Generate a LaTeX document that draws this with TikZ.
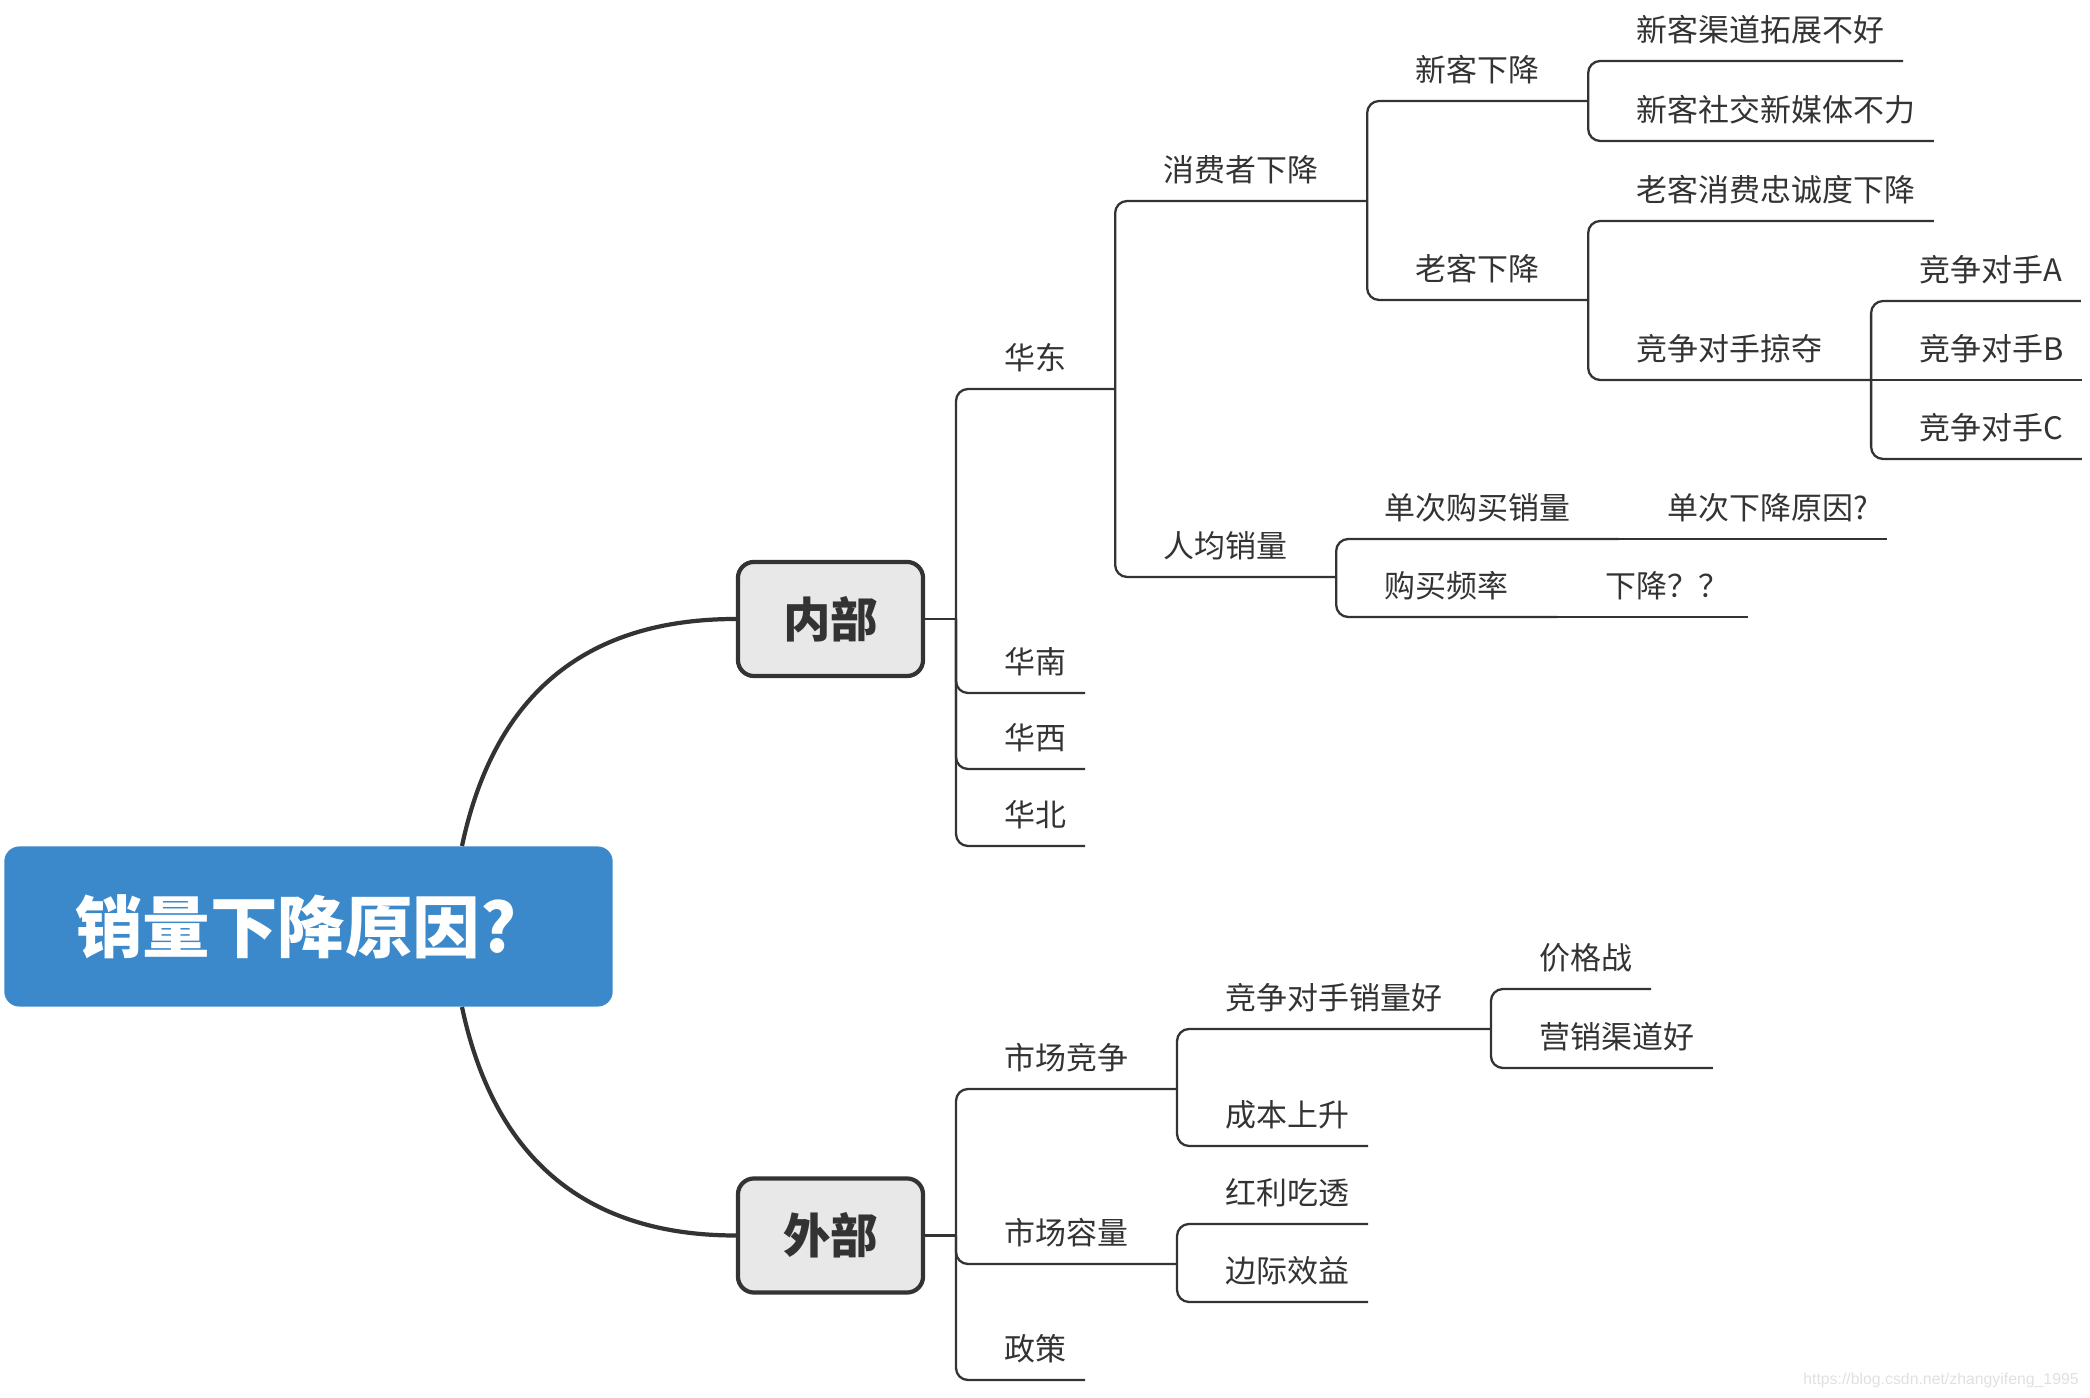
\documentclass[tikz,border=0pt]{standalone}
\usepackage{fontspec}
\newfontfamily\cjk{Noto Sans CJK SC}
\newfontfamily\wmfont{Liberation Sans}

\definecolor{rootblue}{HTML}{3B89CA}
\definecolor{boxgray}{HTML}{E8E8E8}
\definecolor{ink}{HTML}{333333}

\tikzset{
    root/.style={fill=rootblue, rounded corners=0.15cm, text=white,
        font=\cjk\bfseries\fontsize{19.2}{22}\selectfont,
        minimum height=1.6cm, text width=4.66cm, inner xsep=0.71cm, align=left},
    part/.style={draw=ink, line width=1.2pt, fill=boxgray, rounded corners=0.16cm,
        minimum width=1.85cm, minimum height=1.14cm, text=ink,
        font=\cjk\bfseries\fontsize{13.5}{16}\selectfont},
    topic/.style={font=\cjk\fontsize{8.8}{10.5}\selectfont, text=ink,
        anchor=south west, inner xsep=0.486cm, inner ysep=0.19cm,
        outer sep=0pt, text depth=0pt},
    trunk/.style={draw=ink, line width=1.2pt},
    branch/.style={draw=ink, line width=0.65pt, rounded corners=0.12cm}
}

\begin{document}
\begin{tikzpicture}[x=0.01cm, y=-0.01cm, line cap=butt]

\useasboundingbox (0,0) rectangle (2090,1398);

% Central topic and the two main parts
\node[root] (root) at (308.5,926.5) {销量下降原因?};
\node[part] (neibu) at (830.5,619) {内部};
\node[part] (waibu) at (830.5,1235.5) {外部};

% Curved links out of the central topic
\coordinate (rtop) at (462,846);
\coordinate (rbot) at (462,1007);
\draw[trunk] (rtop) .. controls (495,690) and (590,619) .. (neibu.west);
\draw[trunk] (rbot) .. controls (495,1163) and (590,1235.5) .. (waibu.west);

% Spine points right of the boxes
\coordinate (nb) at (956,619);
\coordinate (wb) at (956,1235.5);
\draw[branch] (neibu.east) -- (nb);
\draw[branch] (waibu.east) -- (wb);

% ---- 内部: regions
\node[topic] (huadong) at (nb |- 0,389) {华东};
\node[topic] (huanan)  at (nb |- 0,693) {华南};
\node[topic] (huaxi)   at (nb |- 0,769) {华西};
\node[topic] (huabei)  at (nb |- 0,846) {华北};

\draw[branch] (nb) |- (huadong.south east);
\draw[branch] (nb) |- ([xshift=-0.3cm]huanan.south east);
\draw[branch] (nb) |- ([xshift=-0.3cm]huaxi.south east);
\draw[branch] (nb) |- ([xshift=-0.3cm]huabei.south east);

% 华东
\node[topic] (xiaofei) at (huadong.south east |- 0,201) {消费者下降};
\node[topic] (renjun)  at (huadong.south east |- 0,577) {人均销量};

\draw[branch] (huadong.south east) |- (xiaofei.south east);
\draw[branch] (huadong.south east) |- (renjun.south east);

% 消费者下降
\node[topic] (xinke) at (xiaofei.south east |- 0,101) {新客下降};
\node[topic] (laoke) at (xiaofei.south east |- 0,300) {老客下降};

\draw[branch] (xiaofei.south east) |- (xinke.south east);
\draw[branch] (xiaofei.south east) |- (laoke.south east);

% 新客下降
\node[topic] (xinke1) at (xinke.south east |- 0,61)  {新客渠道拓展不好};
\node[topic] (xinke2) at (xinke.south east |- 0,141) {新客社交新媒体不力};

\draw[branch] (xinke.south east) |- ([xshift=-0.3cm]xinke1.south east);
\draw[branch] (xinke.south east) |- ([xshift=-0.3cm]xinke2.south east);

% 老客下降
\node[topic] (laoke1) at (laoke.south east |- 0,221) {老客消费忠诚度下降};
\node[topic] (lueduo) at (laoke.south east |- 0,380) {竞争对手掠夺};

\draw[branch] (laoke.south east) |- ([xshift=-0.3cm]laoke1.south east);
\draw[branch] (laoke.south east) |- (lueduo.south east);

% 竞争对手掠夺
\node[topic] (rivalA) at (lueduo.south east |- 0,301) {竞争对手A};
\node[topic] (rivalB) at (lueduo.south east |- 0,380) {竞争对手B};
\node[topic] (rivalC) at (lueduo.south east |- 0,459) {竞争对手C};

\draw[branch] (lueduo.south east) |- ([xshift=-0.3cm]rivalA.south east);
\draw[branch] (lueduo.south east) -- ([xshift=-0.3cm]rivalB.south east);
\draw[branch] (lueduo.south east) |- ([xshift=-0.3cm]rivalC.south east);

% 人均销量
\node[topic] (danci) at (renjun.south east |- 0,539) {单次购买销量};
\node[topic] (pinlv) at (renjun.south east |- 0,617) {购买频率};
\node[topic] (danciwhy) at (danci.south east) {单次下降原因?};
\node[topic] (pinlvwhy) at (pinlv.south east) {下降？？};

\draw[branch] (renjun.south east) |- (danci.south east);
\draw[branch] (renjun.south east) |- (pinlv.south east);
\draw[branch] (danci.south east) -- ([xshift=-0.3cm]danciwhy.south east);
\draw[branch] (pinlv.south east) -- ([xshift=-0.3cm]pinlvwhy.south east);

% ---- 外部
\node[topic] (jingzheng) at (wb |- 0,1089) {市场竞争};
\node[topic] (rongliang) at (wb |- 0,1264) {市场容量};
\node[topic] (zhengce)   at (wb |- 0,1380) {政策};

\draw[branch] (wb) |- (jingzheng.south east);
\draw[branch] (wb) |- (rongliang.south east);
\draw[branch] (wb) |- ([xshift=-0.3cm]zhengce.south east);

% 市场竞争
\node[topic] (rivalgood) at (jingzheng.south east |- 0,1029) {竞争对手销量好};
\node[topic] (chengben)  at (jingzheng.south east |- 0,1146) {成本上升};

\draw[branch] (jingzheng.south east) |- (rivalgood.south east);
\draw[branch] (jingzheng.south east) |- ([xshift=-0.3cm]chengben.south east);

% 竞争对手销量好
\node[topic] (jiage)    at (rivalgood.south east |- 0,989)  {价格战};
\node[topic] (yingxiao) at (rivalgood.south east |- 0,1068) {营销渠道好};

\draw[branch] (rivalgood.south east) |- ([xshift=-0.3cm]jiage.south east);
\draw[branch] (rivalgood.south east) |- ([xshift=-0.3cm]yingxiao.south east);

% 市场容量
\node[topic] (hongli) at (rongliang.south east |- 0,1224) {红利吃透};
\node[topic] (bianji) at (rongliang.south east |- 0,1302) {边际效益};

\draw[branch] (rongliang.south east) |- ([xshift=-0.3cm]hongli.south east);
\draw[branch] (rongliang.south east) |- ([xshift=-0.3cm]bianji.south east);

% Watermark
\node[font=\wmfont\fontsize{4.5}{5}\selectfont, text=black!12] (mark)
    at (1941,1380) {https://blog.csdn.net/zhangyifeng\_1995};

\end{tikzpicture}
\end{document}
